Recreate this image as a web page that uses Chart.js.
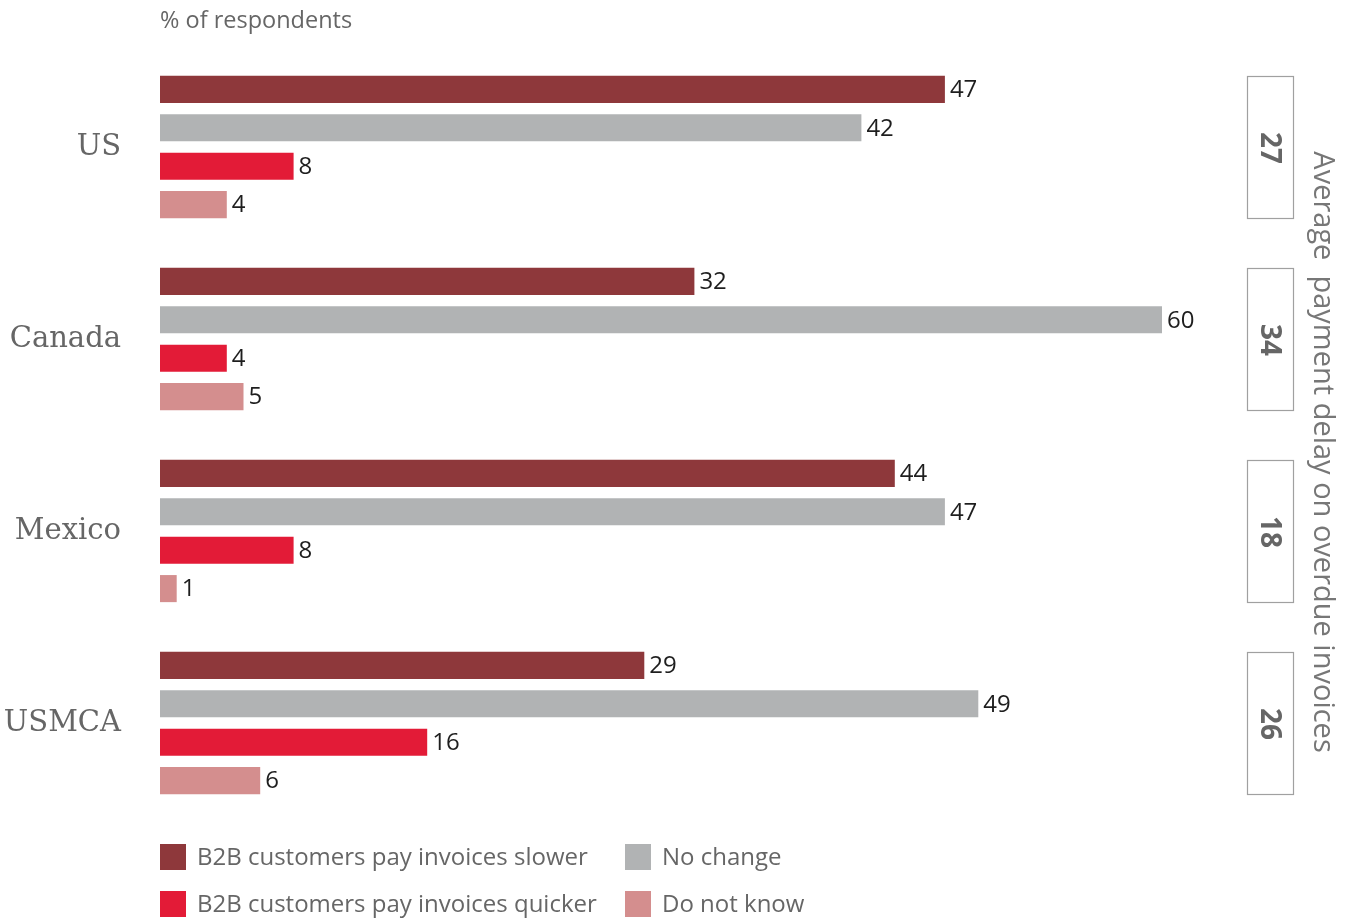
<!DOCTYPE html>
<html>
<head>
<meta charset="utf-8">
<script src="https://cdn.jsdelivr.net/npm/chart.js@4"></script>
<style>
  body { margin: 0; background: #fff; }
  #wrap { width: 1352px; height: 919px; position: relative; }
</style>
</head>
<body>
<div id="wrap"><canvas id="myChart"></canvas></div>
<script>
const categories = ['US', 'Canada', 'Mexico', 'USMCA'];
const slower = [47, 32, 44, 29];
const noChange = [42, 60, 47, 49];
const quicker = [8, 4, 8, 16];
const dontKnow = [4, 5, 1, 6];
const avgDelay = [27, 34, 18, 26];

const sans = '"Open Sans", "Noto Sans", sans-serif';

// setup
const data = {
    labels: categories,
    datasets: [
        { label: 'B2B customers pay invoices slower', data: slower, backgroundColor: '#8e383b' },
        { label: 'No change', data: noChange, backgroundColor: '#b1b3b4' },
        { label: 'B2B customers pay invoices quicker', data: quicker, backgroundColor: '#e31b37' },
        { label: 'Do not know', data: dontKnow, backgroundColor: '#d48e8e' }
    ]
};

// value labels, side boxes, title, legend
const extras = {
    id: 'extras',
    afterDatasetsDraw(chart) {
        const ctx = chart.ctx;
        ctx.save();

        // numbers at bar ends
        ctx.font = '24px ' + sans;
        ctx.fillStyle = '#1e1e1e';
        ctx.textBaseline = 'middle';
        ctx.textAlign = 'left';
        chart.data.datasets.forEach((ds, i) => {
            chart.getDatasetMeta(i).data.forEach((bar, j) => {
                ctx.fillText(ds.data[j], bar.x + 5, bar.y + 1);
            });
        });

        // boxes with average delay, same height as each bar group
        avgDelay.forEach((v, j) => {
            const first = chart.getDatasetMeta(0).data[j];
            const last = chart.getDatasetMeta(3).data[j];
            const top = first.y - first.height / 2;
            const bottom = last.y + last.height / 2;
            const cy = (top + bottom) / 2;
            ctx.strokeStyle = '#a0a0a0';
            ctx.lineWidth = 1.2;
            ctx.strokeRect(1247.5, Math.round(top) + 0.5, 46, Math.round(bottom - top));
            ctx.save();
            ctx.translate(1270, cy + 1);
            ctx.rotate(Math.PI / 2);
            ctx.font = 'bold 28px ' + sans;
            ctx.fillStyle = '#666';
            ctx.textAlign = 'center';
            ctx.fillText(v, 0, 1);
            ctx.restore();
        });

        // right title
        ctx.save();
        ctx.translate(1322, 452);
        ctx.rotate(Math.PI / 2);
        ctx.font = '29px ' + sans;
        ctx.fillStyle = '#777';
        ctx.textAlign = 'center';
        ctx.fillText('Average  payment delay on overdue invoices', 0, 0);
        ctx.restore();

        // top label
        ctx.font = '23.5px ' + sans;
        ctx.fillStyle = '#666';
        ctx.textAlign = 'left';
        ctx.fillText('% of respondents', 160, 21);

        // legend, two columns
        const cols = [160, 625];
        const rows = [857, 904];
        ctx.font = '24px ' + sans;
        chart.data.datasets.forEach((ds, i) => {
            const x = cols[i % 2];
            const ly = rows[Math.floor(i / 2)];
            ctx.fillStyle = ds.backgroundColor;
            ctx.fillRect(x, ly - 13, 26, 26);
            ctx.fillStyle = '#666';
            ctx.fillText(ds.label, x + 37, ly + 1);
        });

        ctx.restore();
    }
};

// config
const chartInfo = {
    type: 'bar',
    data: data,
    options: {
        indexAxis: 'y',
        responsive: true,
        maintainAspectRatio: false,
        animation: false,
        categoryPercentage: 0.8,
        barPercentage: 0.705,
        layout: { padding: { top: 51, right: 190, bottom: 100, left: 0 } },
        scales: {
            x: { display: false, min: 0, max: 60 },
            y: {
                grid: { display: false },
                border: { display: false },
                ticks: {
                    padding: 31,
                    color: '#666',
                    font: { family: '"DejaVu Serif", serif', size: 29 }
                },
                afterFit(scale) { scale.width = 160; }
            }
        },
        plugins: {
            legend: { display: false },
            tooltip: { enabled: false }
        }
    },
    plugins: [extras]
};

new Chart(document.getElementById('myChart'), chartInfo);
</script>
</body>
</html>
